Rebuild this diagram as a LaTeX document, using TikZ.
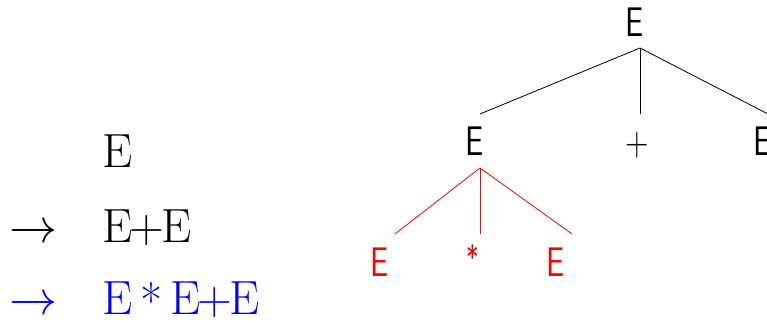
\documentclass[tikz,border=0pt]{standalone}
\usepackage{fontspec}
\newfontfamily\treefont[FakeStretch=0.78]{Latin Modern Sans}
\usetikzlibrary{positioning}
\newcommand{\derarrow}{\scalebox{1.45}{$\rightarrow$}}
\begin{document}
\begin{tikzpicture}[x=0.75pt, y=-0.75pt,
  der/.style={font=\fontsize{36}{40}\selectfont, inner sep=0pt, anchor=base west},
  sym/.style={font=\treefont\fontsize{31}{36}\selectfont, inner sep=0pt, anchor=base},
  branch/.style={line width=0.6pt}]
\useasboundingbox (0,0) rectangle (767,324);
% derivation
\node[der] (d1) at (102,167) {E};
\node[der] (s2) at (9,242) {\derarrow};
\node[der] (d2) at (102,242) {E\kern-2pt+\kern-2pt E};
\node[der, blue] (s3) at (9,314) {\derarrow};
\node[der, blue] (d3) at (102,314) {E\,\raisebox{-3pt}{*}\,E\kern-2pt+\kern-2pt E};
% parse tree
\node[sym] (r) at (635,37) {E};
\node[sym] (a) at (475,156) {E};
\node[sym] (p) at (637,156) {+};
\node[sym] (b) at (763,156) {E};
\node[sym, red] (a1) at (380,276) {E};
\node[sym, red, font=\treefont\fontsize{26}{30}\selectfont] (a2) at (473,270) {*};
\node[sym, red] (a3) at (556,276) {E};
\coordinate (rj) at (640,48);
\coordinate (ra) at (480,114);
\coordinate (rp) at (640,114);
\coordinate (rb) at (768,114);
\coordinate (aj) at (480,168);
\coordinate (aa1) at (395,234);
\coordinate (aa2) at (480,234);
\coordinate (aa3) at (572,234);
\draw[branch] (rj) -- (ra); \draw[branch] (rj) -- (rp); \draw[branch] (rj) -- (rb);
\draw[branch, red] (aj) -- (aa1); \draw[branch, red] (aj) -- (aa2); \draw[branch, red] (aj) -- (aa3);
\end{tikzpicture}
\end{document}
